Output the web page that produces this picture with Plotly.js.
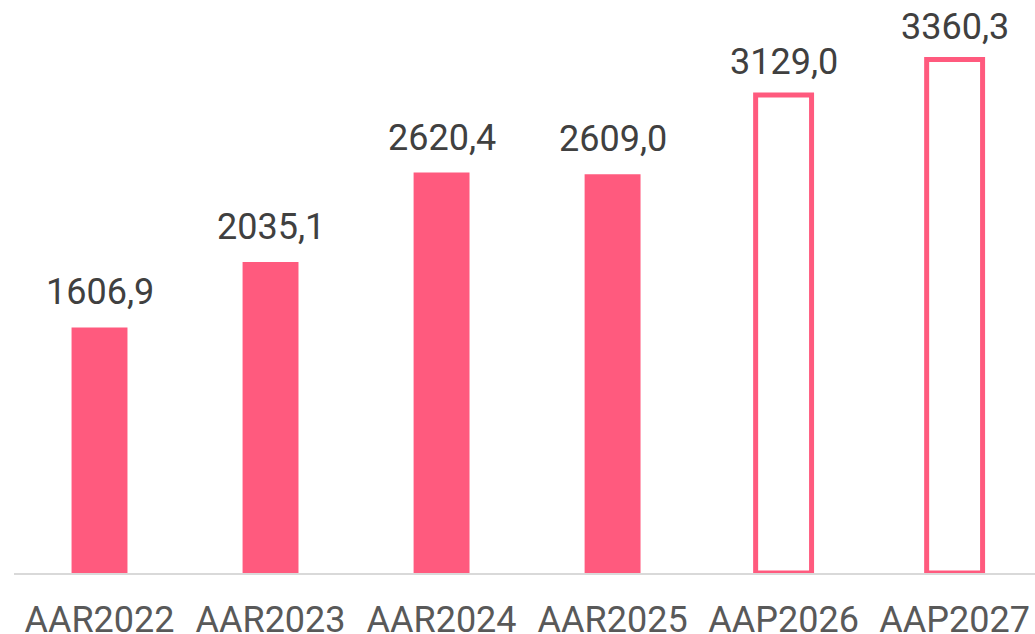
<!DOCTYPE html>
<html>
<head>
<meta charset="utf-8">
<script src="https://cdn.plot.ly/plotly-3.0.1.min.js"></script>
<style>html,body{margin:0;padding:0;background:#fff;}#chart{width:1035px;height:634px;}</style>
</head>
<body>
<div id="chart"></div>
<script>
const categories = ["AAR2022", "AAR2023", "AAR2024", "AAR2025", "AAP2026", "AAP2027"];
const values = [1606.9, 2035.1, 2620.4, 2609.0, 3129.0, 3360.3];
const isForecast = [false, false, false, false, true, true];

const pink = "#FF5A7E";
const labels = values.map(v => v.toFixed(1).replace(".", ","));

const trace = {
  type: "bar",
  x: categories,
  y: values,
  width: 0.327,
  marker: {
    color: isForecast.map(f => f ? "#FFFFFF" : pink),
    line: {
      color: pink,
      width: isForecast.map(f => f ? 5 : 0)
    }
  },
  hoverinfo: "none"
};

const annotations = categories.map((c, i) => ({
  x: c,
  y: values[i],
  xref: "x",
  yref: "y",
  text: labels[i],
  showarrow: false,
  yanchor: "bottom",
  yshift: isForecast[i] ? 10 : 12,
  font: {family: "Roboto", size: 36, color: "#404040"}
}));

const layout = {
  width: 1035,
  height: 634,
  margin: {l: 14, r: 0, t: 0, b: 61},
  paper_bgcolor: "#FFFFFF",
  plot_bgcolor: "#FFFFFF",
  showlegend: false,
  xaxis: {
    type: "category",
    range: [-0.5, 5.47],
    showline: true,
    linecolor: "#D9D9D9",
    linewidth: 2,
    showgrid: false,
    zeroline: false,
    ticks: "outside",
    ticklen: 14,
    tickcolor: "rgba(0,0,0,0)",
    tickfont: {family: "Roboto", size: 36, color: "#595959"}
  },
  yaxis: {
    range: [0, 3750],
    visible: false,
    showgrid: false,
    zeroline: false
  },
  annotations: annotations
};

Plotly.newPlot("chart", [trace], layout, {displayModeBar: false, staticPlot: true});
</script>
</body>
</html>
